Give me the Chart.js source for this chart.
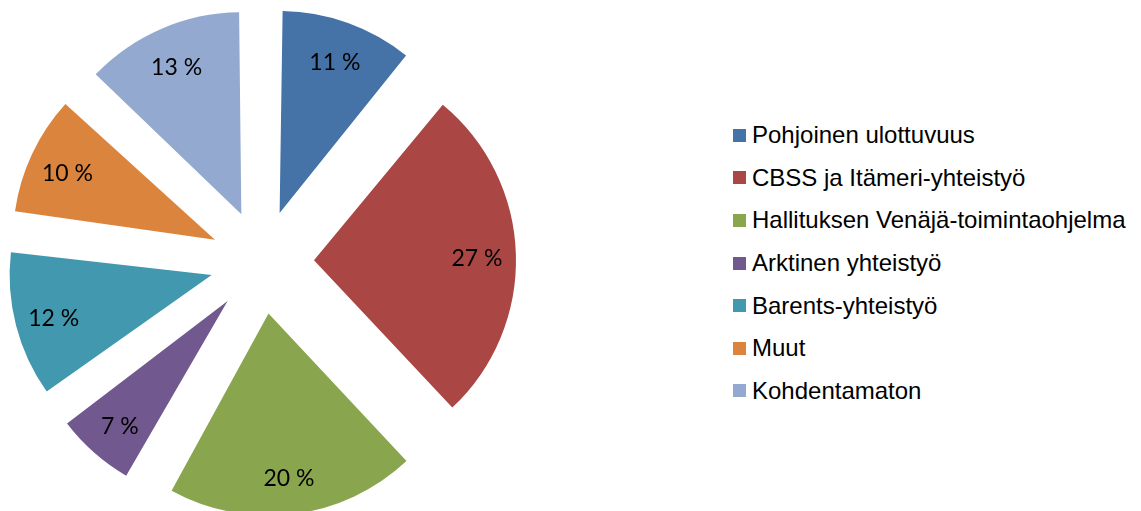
<!DOCTYPE html>
<html>
<head>
<meta charset="utf-8">
<script src="https://cdn.jsdelivr.net/npm/chart.js@4.4.1/dist/chart.umd.min.js"></script>
<style>
    html, body { margin: 0; padding: 0; background: #fff; overflow: hidden; }
    #pieWrap { position: absolute; left: 0; top: 0; width: 524px; height: 524px; }
    #legend { position: absolute; left: 733px; top: 114px; font-family: "Liberation Sans", Arial, sans-serif; font-size: 24px; color: #000; }
    #legend .row { height: 42.6px; display: flex; align-items: center; white-space: nowrap; }
    #legend .box { width: 13px; height: 13px; margin-right: 6px; flex: none; }
</style>
</head>
<body>
<div id="pieWrap"><canvas id="pie"></canvas></div>
<div id="legend"></div>
<script>
// ── data ──────────────────────────────────────────────
const labels = [
    'Pohjoinen ulottuvuus',
    'CBSS ja Itämeri-yhteistyö',
    'Hallituksen Venäjä-toimintaohjelma',
    'Arktinen yhteistyö',
    'Barents-yhteistyö',
    'Muut',
    'Kohdentamaton'
];
const shares = [11, 27, 20, 7, 12, 10, 13];
const colors = ['#4572A7', '#AA4643', '#89A54E', '#71588F', '#4198AF', '#DB843D', '#93A9CF'];

// ── geometry ──────────────────────────────────────────
const RADIUS = 202;      // slice radius, px
const EXPLODE = 52;      // how far each slice is pulled out
const OFFSET = EXPLODE * 4; // Chart.js v4 arcs translate by offset / 4

// Chart.js also grows narrow slices by offset * (1 - sin(circumference));
// shrink them back so every slice keeps the same radius.
const equalRadius = {
    id: 'equalRadius',
    afterDatasetsUpdate(chart) {
        chart.getDatasetMeta(0).data.forEach(arc => {
            const fix = 1 - Math.sin(Math.min(Math.PI, arc.circumference));
            arc.outerRadius = RADIUS - EXPLODE * fix;
        });
    }
};

// Percent labels inside the exploded slices
const sliceLabels = {
    id: 'sliceLabels',
    afterDatasetsDraw(chart) {
        const ctx = chart.ctx;
        const meta = chart.getDatasetMeta(0);
        ctx.save();
        ctx.font = '23px Lato, "Open Sans", sans-serif';
        ctx.fillStyle = '#000';
        ctx.textAlign = 'center';
        ctx.textBaseline = 'middle';
        meta.data.forEach((arc, i) => {
            const mid = (arc.startAngle + arc.endAngle) / 2;
            const r = EXPLODE + 163;
            ctx.fillText(`${shares[i]} %`, arc.x + Math.cos(mid) * r, arc.y + Math.sin(mid) * r + 3);
        });
        ctx.restore();
    }
};

const chart = new Chart(document.getElementById('pie'), {
    type: 'pie',
    data: {
        labels,
        datasets: [{
            data: shares,
            backgroundColor: colors,
            borderWidth: 0,
            offset: OFFSET,
            hoverOffset: OFFSET,
            clip: false
        }]
    },
    options: {
        responsive: true,
        maintainAspectRatio: false,
        animation: false,
        radius: RADIUS,
        layout: { padding: 0 },
        events: [],
        plugins: {
            legend: { display: false },
            tooltip: { enabled: false }
        }
    },
    plugins: [equalRadius, sliceLabels]
});

// HTML legend built from the chart's own data
const legendEl = document.getElementById('legend');
chart.data.labels.forEach((label, i) => {
    const row = document.createElement('div');
    row.className = 'row';
    const box = document.createElement('span');
    box.className = 'box';
    box.style.background = chart.data.datasets[0].backgroundColor[i];
    const text = document.createElement('span');
    text.textContent = label;
    row.appendChild(box);
    row.appendChild(text);
    legendEl.appendChild(row);
});
</script>
</body>
</html>
